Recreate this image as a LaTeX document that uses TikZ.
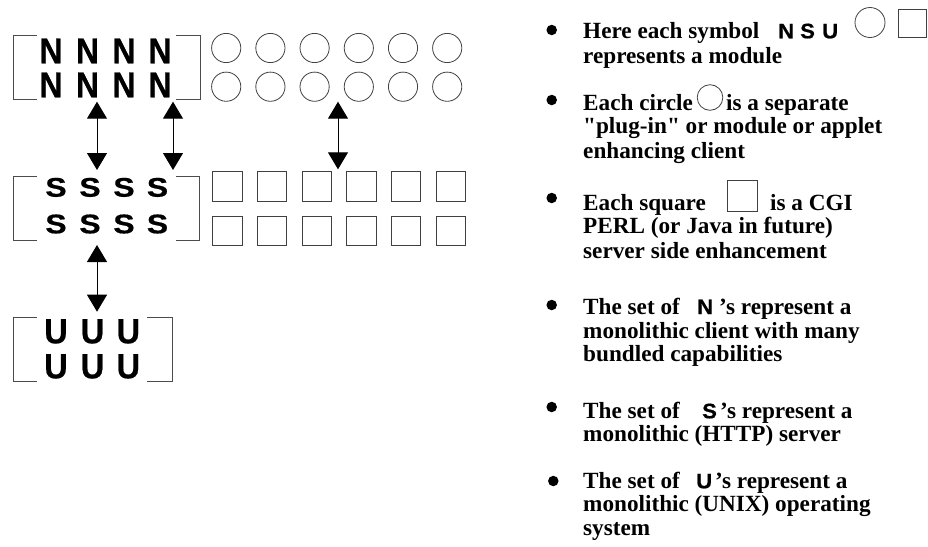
\documentclass[tikz,border=0pt]{standalone}
\usepackage{fontspec}
\usepackage{graphicx}
\setmainfont{Liberation Serif}[Ligatures=TeXOff]
\newfontfamily\modfont{Liberation Sans Bold}[FakeBold=0.6]
\usetikzlibrary{arrows.meta}

\newcommand\legfont{\bfseries\fontsize{23.2}{24.5}\selectfont}
\newcommand\modsym[3]{{\modfont\fontsize{#1}{#1}\selectfont\scalebox{#2}[1]{#3}}}

\begin{document}
\begin{tikzpicture}[x=1pt,y=-1pt,>={Triangle[length=17pt,width=20pt]},
  frame/.style={draw=black!70,line width=.9pt},
  letter/.style={anchor=base,inner sep=0pt},
  plugin/.style={circle,draw=black!75,line width=.8pt,minimum size=29.2pt,inner sep=0pt},
  cgibox/.style={rectangle,draw=black!75,line width=.8pt,minimum size=29.5pt,inner sep=0pt},
  link/.style={<->,line width=1pt},
  leg/.style={anchor=base west,inner sep=0pt,font=\legfont},
  dot/.style={circle,fill=black,minimum size=10.5pt,inner sep=0pt}]
  \useasboundingbox (0,0) rectangle (928,546);

  % N block (client)
  \draw[frame] (37,35) -- (13,35) -- (13,99) -- (37,99);
  \draw[frame] (176,35) -- (200,35) -- (200,99) -- (176,99);
  \foreach \x [count=\i] in {51,87.5,124,160} {
    \node[letter] (n1\i) at (\x,63.3) {\modsym{36}{.88}{N}};
    \node[letter] (n2\i) at (\x,97.3) {\modsym{36}{.88}{N}};
  }

  % S block (server)
  \draw[frame] (37,176.7) -- (13,176.7) -- (13,240) -- (37,240);
  \draw[frame] (176,176.7) -- (199,176.7) -- (199,240) -- (176,240);
  \foreach \x [count=\i] in {56,90,124,157.5} {
    \node[letter] (s1\i) at (\x,196.7) {\modsym{27}{1.18}{S}};
    \node[letter] (s2\i) at (\x,233.3) {\modsym{27}{1.18}{S}};
  }

  % U block (operating system)
  \draw[frame] (37,317.7) -- (13,317.7) -- (13,381) -- (37,381);
  \draw[frame] (147,317.7) -- (172,317.7) -- (172,381) -- (147,381);
  \foreach \x [count=\i] in {56,92.5,128.3} {
    \node[letter] (u1\i) at (\x,343.3) {\modsym{35}{.93}{U}};
    \node[letter] (u2\i) at (\x,378.3) {\modsym{35}{.93}{U}};
  }

  % plug-ins and CGI modules
  \foreach \i in {0,...,5} {
    \node[plugin] (c1\i) at (226.2+44.2*\i,48) {};
    \node[plugin] (c2\i) at (226.2+44.2*\i,86.7) {};
    \node[cgibox] (q1\i) at (227.3+44.7*\i,186.4) {};
    \node[cgibox] (q2\i) at (227.3+44.7*\i,230.9) {};
  }

  % arrows
  \coordinate (nsa) at (97,101.7);   \coordinate (nsb) at (97,170);
  \coordinate (nsc) at (173,101.7);  \coordinate (nsd) at (173,170);
  \coordinate (cqa) at (338,101.7);  \coordinate (cqb) at (338,169.3);
  \coordinate (sua) at (97,245);     \coordinate (sub) at (97,311.7);
  \draw[link] (nsa) -- (nsb);
  \draw[link] (nsc) -- (nsd);
  \draw[link] (cqa) -- (cqb);
  \draw[link] (sua) -- (sub);

  % legend
  \node[dot] (b1) at (551.7,30) {};
  \node[leg] (l11) at (583,38.3) {Here each symbol};
  \node[letter,anchor=base west] (l1n) at (778,38.3) {\modsym{21}{1.05}{N}};
  \node[letter,anchor=base west] (l1s) at (800,38.3) {\modsym{21}{1.05}{S}};
  \node[letter,anchor=base west] (l1u) at (822,38.3) {\modsym{21}{1.05}{U}};
  \node[plugin,minimum width=30pt,minimum height=28.4pt] (l1c) at (870,22.5) {};
  \node[cgibox,minimum size=28pt] (l1q) at (912,23.3) {};
  \node[leg] (l12) at (583,63.3) {represents a module};

  \node[dot] (b2) at (551.7,100) {};
  \node[leg] (l21) at (583,110) {Each circle};
  \node[plugin,minimum size=25.6pt] (l2c) at (710,97.5) {};
  \node[leg] (l22) at (726,110) {is a separate};
  \node[leg] (l23) at (583,133.3) {"plug-in" or module or applet};
  \node[leg] (l24) at (583,158) {enhancing client};

  \node[dot] (b3) at (551.7,198) {};
  \node[leg] (l31) at (583,210) {Each square};
  \node[cgibox,minimum size=30.5pt] (l3q) at (742.5,196) {};
  \node[leg] (l32) at (770,210) {is a CGI};
  \node[leg] (l33) at (583,233.3) {PERL (or Java in future)};
  \node[leg] (l34) at (583,258.3) {server side enhancement};

  \node[dot] (b4) at (551.7,305) {};
  \node[leg] (l41) at (583,314) {The set of};
  \node[letter,anchor=base west] (l4n) at (697,314) {\modsym{21}{1.05}{N}};
  \node[leg] (l42) at (719,314) {’s represent a};
  \node[leg] (l43) at (583,338.3) {monolithic client with many};
  \node[leg] (l44) at (583,361.7) {bundled capabilities};

  \node[dot] (b5) at (551.7,407) {};
  \node[leg] (l51) at (583,418.3) {The set of};
  \node[letter,anchor=base west] (l5s) at (702,418.3) {\modsym{21}{1.05}{S}};
  \node[leg] (l52) at (720,418.3) {’s represent a};
  \node[leg] (l53) at (583,441.7) {monolithic (HTTP) server};

  \node[dot] (b6) at (553.3,481) {};
  \node[leg] (l61) at (583,488.3) {The set of};
  \node[letter,anchor=base west] (l6u) at (696,488.3) {\modsym{21}{1.05}{U}};
  \node[leg] (l62) at (715,488.3) {’s represent a};
  \node[leg] (l63) at (583,511.7) {monolithic (UNIX) operating};
  \node[leg] (l64) at (583,535) {system};
\end{tikzpicture}
\end{document}
